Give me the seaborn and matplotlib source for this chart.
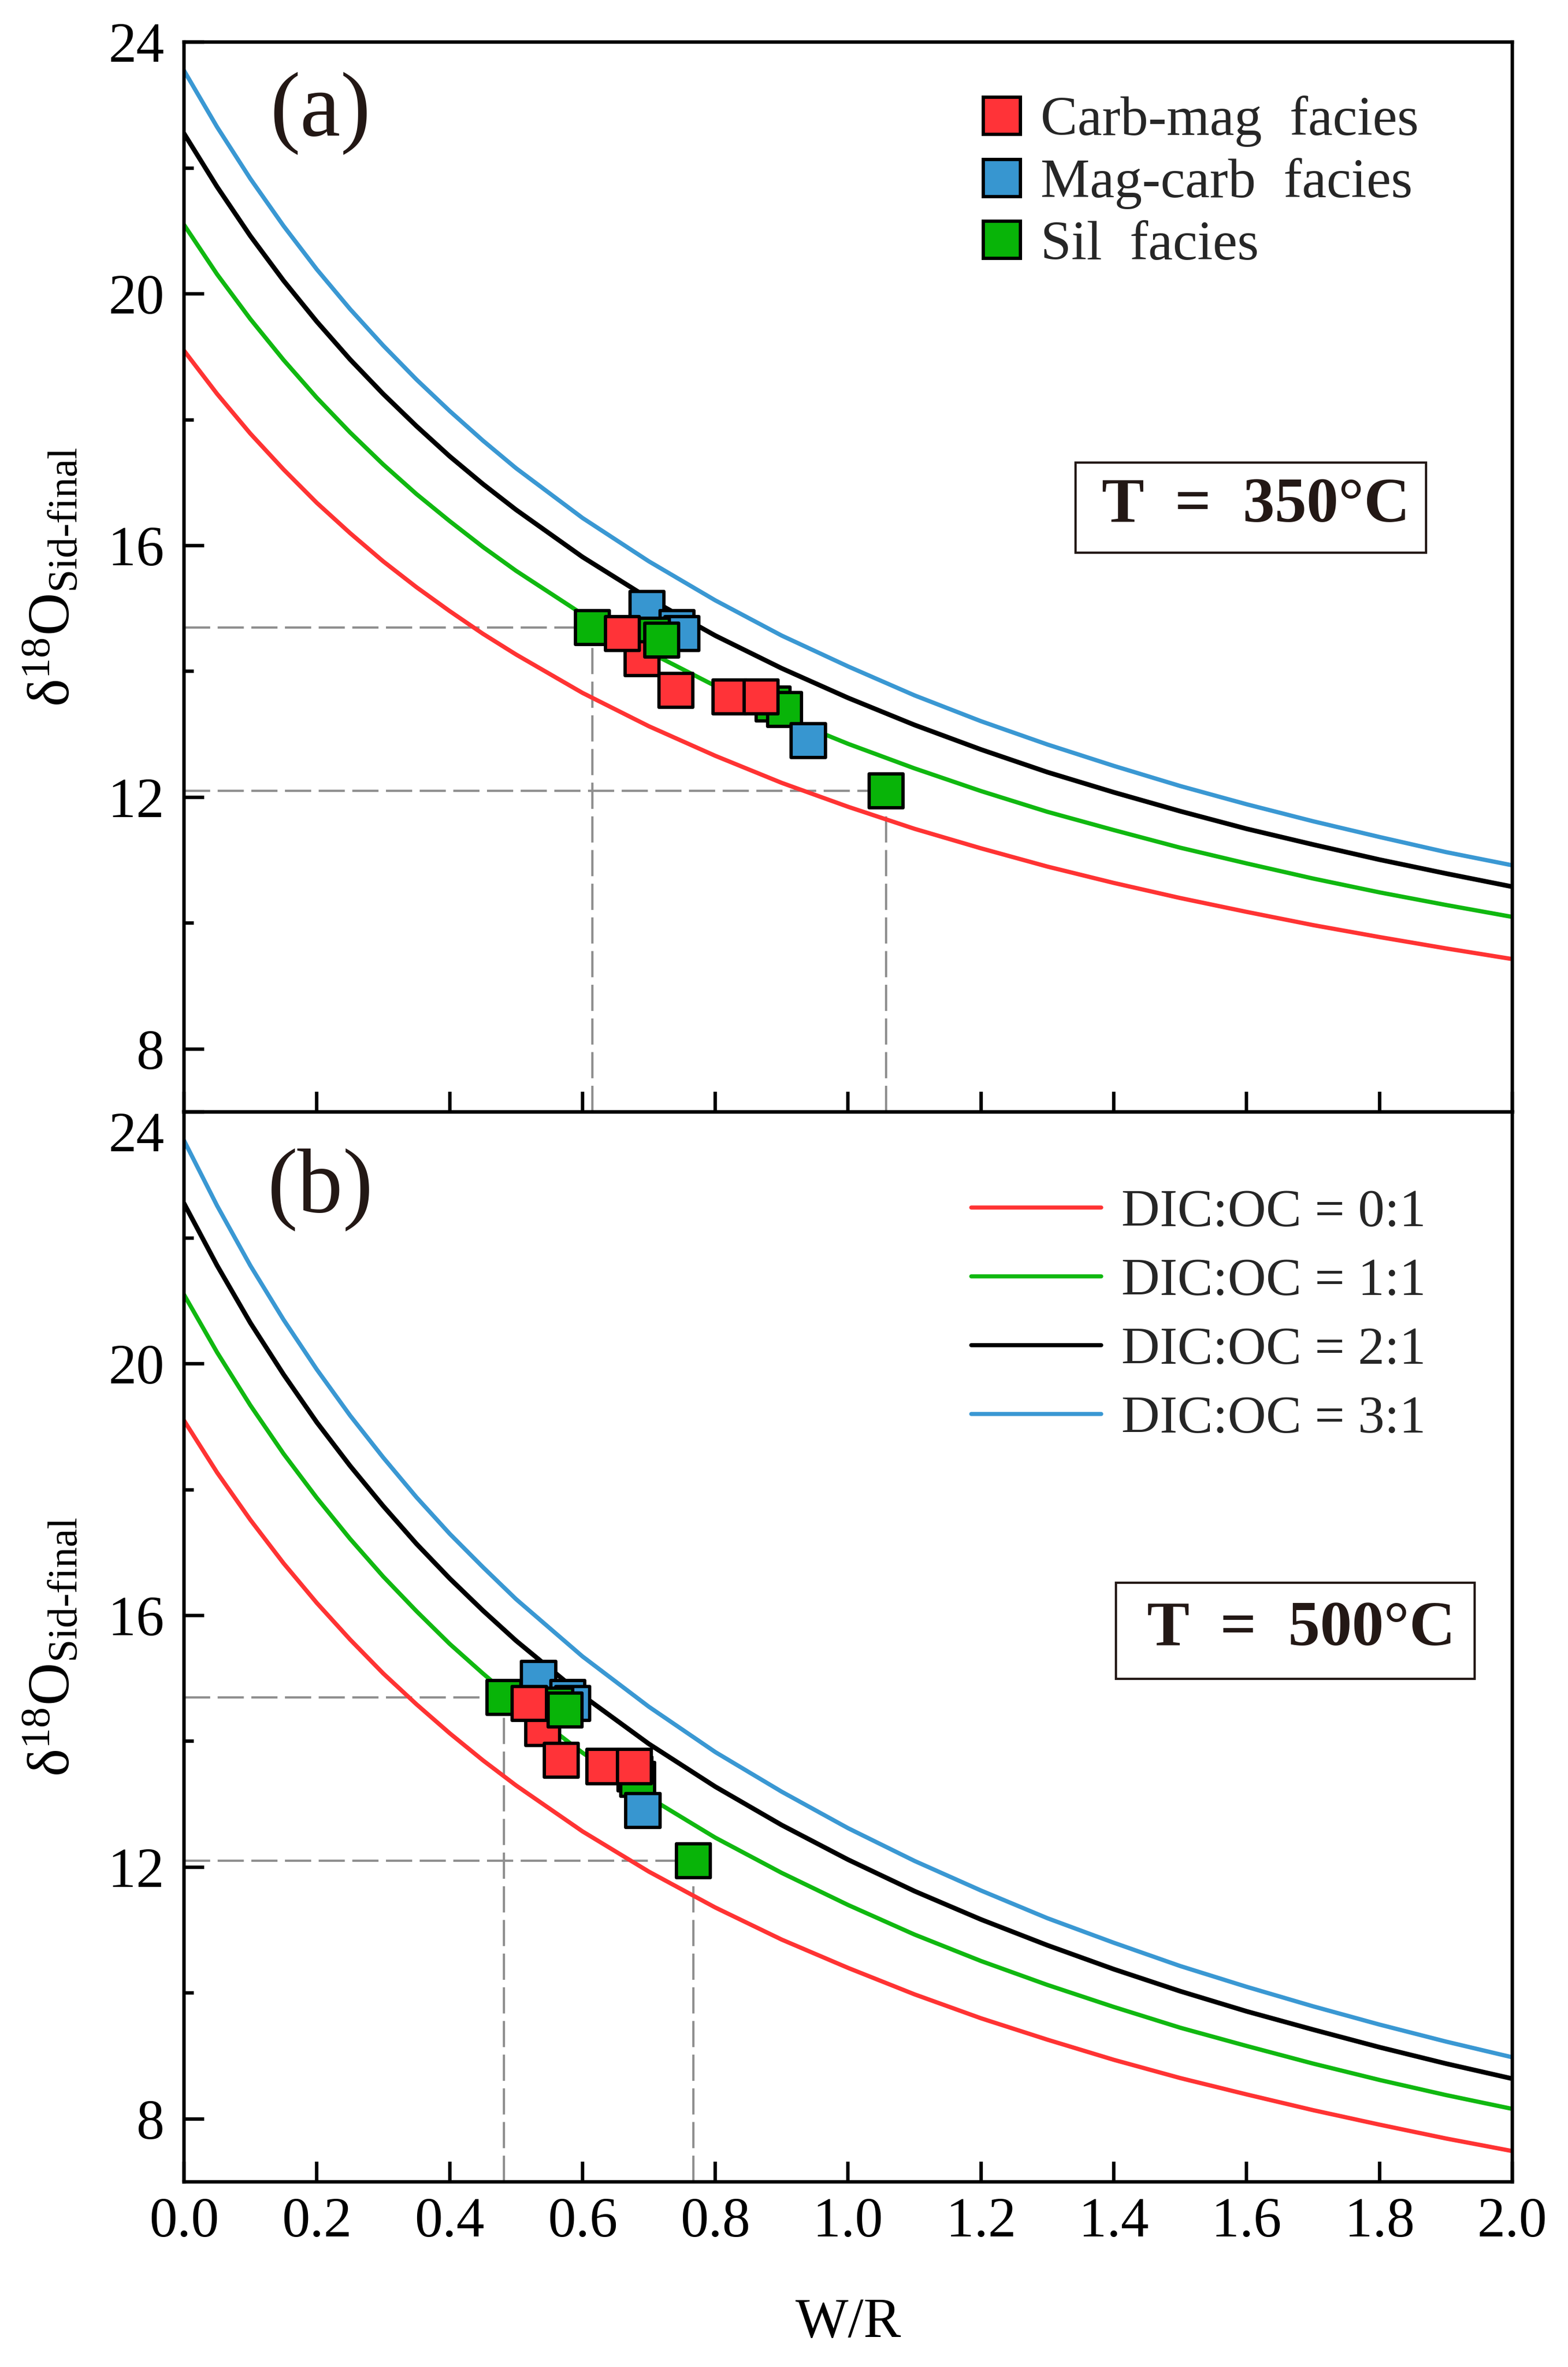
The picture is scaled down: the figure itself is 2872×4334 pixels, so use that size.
import matplotlib
matplotlib.use("Agg")
import matplotlib.pyplot as plt
from matplotlib.patches import Rectangle
from matplotlib.ticker import FixedLocator, FormatStrFormatter
import pandas as pd
import seaborn as sns

# W/R grid the model curves were read at (denser where the curves bend most)
wr_grid = [0.0, 0.05, 0.1, 0.15, 0.2, 0.25, 0.3, 0.35, 0.4, 0.45, 0.5,
           0.6, 0.7, 0.8, 0.9, 1.0, 1.1, 1.2, 1.3, 1.4, 1.5, 1.6, 1.7, 1.8, 1.9, 2.0]

ratio_labels = ["DIC:OC = 0:1", "DIC:OC = 1:1", "DIC:OC = 2:1", "DIC:OC = 3:1"]

# T = 350 C
curve_350_r01 = [19.10, 18.41, 17.78, 17.21, 16.68, 16.20, 15.75, 15.34, 14.96, 14.60, 14.27,
                 13.66, 13.13, 12.66, 12.23, 11.85, 11.50, 11.19, 10.90, 10.64, 10.40,
                 10.18, 9.97, 9.78, 9.60, 9.43]
curve_350_r11 = [21.10, 20.31, 19.60, 18.95, 18.35, 17.80, 17.29, 16.82, 16.39, 15.98, 15.60,
                 14.91, 14.31, 13.77, 13.28, 12.85, 12.46, 12.10, 11.77, 11.48, 11.20,
                 10.95, 10.71, 10.49, 10.29, 10.10]
curve_350_r21 = [22.55, 21.70, 20.92, 20.21, 19.56, 18.96, 18.41, 17.90, 17.42, 16.98, 16.57,
                 15.82, 15.16, 14.57, 14.05, 13.58, 13.15, 12.76, 12.40, 12.08, 11.78,
                 11.50, 11.25, 11.01, 10.79, 10.58]
curve_350_r31 = [23.55, 22.65, 21.83, 21.08, 20.39, 19.76, 19.18, 18.64, 18.14, 17.67, 17.23,
                 16.44, 15.75, 15.13, 14.57, 14.08, 13.62, 13.21, 12.84, 12.50, 12.18,
                 11.89, 11.62, 11.37, 11.13, 10.92]

# T = 500 C
curve_500_r01 = [19.10, 18.27, 17.52, 16.83, 16.20, 15.62, 15.08, 14.59, 14.13, 13.70, 13.30,
                 12.57, 11.93, 11.36, 10.85, 10.40, 9.98, 9.60, 9.26, 8.94, 8.65,
                 8.39, 8.14, 7.91, 7.69, 7.49]
curve_500_r11 = [21.10, 20.18, 19.34, 18.57, 17.87, 17.22, 16.62, 16.07, 15.55, 15.08, 14.63,
                 13.82, 13.11, 12.47, 11.91, 11.40, 10.93, 10.51, 10.13, 9.78, 9.45,
                 9.16, 8.88, 8.62, 8.38, 8.16]
curve_500_r21 = [22.55, 21.56, 20.65, 19.83, 19.07, 18.38, 17.74, 17.14, 16.59, 16.08, 15.60,
                 14.73, 13.96, 13.28, 12.67, 12.12, 11.62, 11.17, 10.76, 10.38, 10.03,
                 9.71, 9.42, 9.14, 8.88, 8.64]
curve_500_r31 = [23.55, 22.51, 21.56, 20.70, 19.91, 19.18, 18.51, 17.88, 17.30, 16.77, 16.26,
                 15.35, 14.55, 13.83, 13.20, 12.62, 12.10, 11.63, 11.19, 10.80, 10.43,
                 10.10, 9.79, 9.50, 9.23, 8.98]

facies_labels = ["Carb-mag  facies", "Mag-carb  facies", "Sil  facies"]

# samples, in drawing order (later rows sit on top)
sample_facies = ["Sil  facies", "Mag-carb  facies", "Mag-carb  facies", "Mag-carb  facies",
                 "Sil  facies", "Carb-mag  facies", "Carb-mag  facies", "Sil  facies",
                 "Carb-mag  facies", "Sil  facies", "Sil  facies", "Carb-mag  facies",
                 "Carb-mag  facies", "Mag-carb  facies", "Sil  facies"]
sample_wr_350 = [0.615, 0.697, 0.742, 0.750, 0.705, 0.690, 0.660, 0.719,
                 0.741, 0.887, 0.904, 0.822, 0.869, 0.940, 1.057]
sample_wr_500 = [0.482, 0.534, 0.578, 0.585, 0.560, 0.540, 0.520, 0.574,
                 0.568, 0.679, 0.683, 0.632, 0.678, 0.691, 0.767]
sample_d18o = [14.70, 15.00, 14.70, 14.60, 14.58, 14.20, 14.60, 14.50,
               13.70, 13.48, 13.40, 13.60, 13.60, 12.90, 12.10]

panel_tags = ["(a)", "(b)"]
panel_temps = ["T  =  350°C", "T  =  500°C"]

LINE_COLORS = ["#ff3333", "#10b810", "#000000", "#3a98d3"]
FACIES_COLORS = ["#ff3338", "#3796d0", "#08b408"]
INK = "#231815"
Y_MIN, Y_MAX = 7, 24

sns.set_theme(style="ticks")
plt.rcParams["font.family"] = ["Liberation Serif", "DejaVu Serif"]
plt.rcParams["mathtext.fontset"] = "custom"
plt.rcParams["mathtext.rm"] = "Liberation Serif"
plt.rcParams["mathtext.it"] = "Liberation Serif:italic"
plt.rcParams["mathtext.bf"] = "Liberation Serif:bold"


def curve_frame(curves):
    parts = [pd.DataFrame({"wr": wr_grid, "d18o": vals, "ratio": lab})
             for lab, vals in zip(ratio_labels, curves)]
    return pd.concat(parts, ignore_index=True)


curves = [
    curve_frame([curve_350_r01, curve_350_r11, curve_350_r21, curve_350_r31]),
    curve_frame([curve_500_r01, curve_500_r11, curve_500_r21, curve_500_r31]),
]
samples = [
    pd.DataFrame({"facies": sample_facies, "wr": sample_wr_350, "d18o": sample_d18o}),
    pd.DataFrame({"facies": sample_facies, "wr": sample_wr_500, "d18o": sample_d18o}),
]

fig, axes = plt.subplots(2, 1, figsize=(14.36, 21.67), dpi=200, sharex=True)
fig.subplots_adjust(left=0.1173, right=0.9645, top=0.9822, bottom=0.0782, hspace=0)

# text box rectangles (axes fractions)
boxes = [(0.671, 0.523, 0.264, 0.084), (0.7016, 0.470, 0.270, 0.090)]
box_text_xy = [(0.807, 0.566), (0.841, 0.516)]
tag_y = [0.933, 0.927]

for i, ax in enumerate(axes):
    sns.lineplot(data=curves[i], x="wr", y="d18o", hue="ratio", hue_order=ratio_labels,
                 palette=LINE_COLORS, linewidth=2.8, sort=False, estimator=None,
                 legend=(i == 1), ax=ax)
    for ln in ax.lines:
        if ln.get_color() in ("#000000", "k", "black"):
            ln.set_linewidth(3.1)

    # dashed guides to the extreme Sil-facies samples
    sil = samples[i][samples[i]["facies"] == "Sil  facies"]
    for _, row in sil.loc[[sil["wr"].idxmin(), sil["wr"].idxmax()]].iterrows():
        ax.plot([0, row["wr"]], [row["d18o"], row["d18o"]], color="#8f8f8f",
                lw=1.5, dashes=(11.5, 3.3), zorder=1.5)
        ax.plot([row["wr"], row["wr"]], [Y_MIN, row["d18o"]], color="#8f8f8f",
                lw=1.5, dashes=(11.5, 3.3), zorder=1.5)

    sns.scatterplot(data=samples[i], x="wr", y="d18o", hue="facies", hue_order=facies_labels,
                    palette=FACIES_COLORS, marker="s", s=500, edgecolor="black",
                    linewidth=2.2, zorder=3, legend=(i == 0), ax=ax)

    ax.set_xlim(0, 2)
    ax.set_ylim(Y_MIN, Y_MAX)
    ax.xaxis.set_major_locator(FixedLocator([0.0, 0.2, 0.4, 0.6, 0.8, 1.0,
                                             1.2, 1.4, 1.6, 1.8, 2.0]))
    ax.xaxis.set_major_formatter(FormatStrFormatter("%.1f"))
    ax.yaxis.set_major_locator(FixedLocator([8, 12, 16, 20, 24]))
    ax.yaxis.set_minor_locator(FixedLocator([10, 14, 18, 22]))
    ax.tick_params(which="both", direction="in", top=False, right=False,
                   width=2.3, labelsize=37, colors="black")
    ax.tick_params(which="major", length=13.3)
    ax.tick_params(which="minor", length=6.5)
    ax.tick_params(axis="y", pad=13)
    ax.tick_params(axis="x", pad=10)
    for sp in ax.spines.values():
        sp.set_visible(True)
        sp.set_linewidth(2.3)
        sp.set_color("black")

    ax.set_ylabel(r"δ$^{\mathregular{18}}$O$_{\mathregular{Sid}\text{-}\mathregular{final}}$",
                  fontsize=39, color="black")
    ax.yaxis.set_label_coords(-0.077, 0.5)
    ax.set_xlabel("")

    ax.text(0.1028, tag_y[i], panel_tags[i], transform=ax.transAxes, fontsize=60,
            ha="center", va="center", color=INK)
    x0, y0, w, h = boxes[i]
    ax.add_patch(Rectangle((x0, y0), w, h, transform=ax.transAxes, fill=False,
                           lw=1.5, ec=INK, zorder=4))
    ax.text(*box_text_xy[i], panel_temps[i], transform=ax.transAxes, fontsize=42,
            fontweight="bold", ha="center", va="center", color=INK)

axes[0].tick_params(labelbottom=False)
axes[1].set_xlabel("W/R", fontsize=37, color="black")
axes[1].xaxis.set_label_coords(0.5, -0.108)
axes[1].yaxis.get_major_ticks()[-1].label1.set_verticalalignment("top")

sns.move_legend(axes[0], "upper right", bbox_to_anchor=(0.9295, 0.950), frameon=False,
                fontsize=36.5, title=None, handlelength=0.8, handletextpad=0.3,
                labelspacing=0.2, borderpad=0, borderaxespad=0, markerscale=1.1)
sns.move_legend(axes[1], "upper right", bbox_to_anchor=(0.935, 0.928), frameon=False,
                fontsize=35, title=None, handlelength=2.45, handletextpad=0.38,
                labelspacing=0.38, borderpad=0, borderaxespad=0)
for h in axes[1].get_legend().legend_handles:
    h.set_linewidth(2.7)

fig.savefig("out.png", dpi=200)
